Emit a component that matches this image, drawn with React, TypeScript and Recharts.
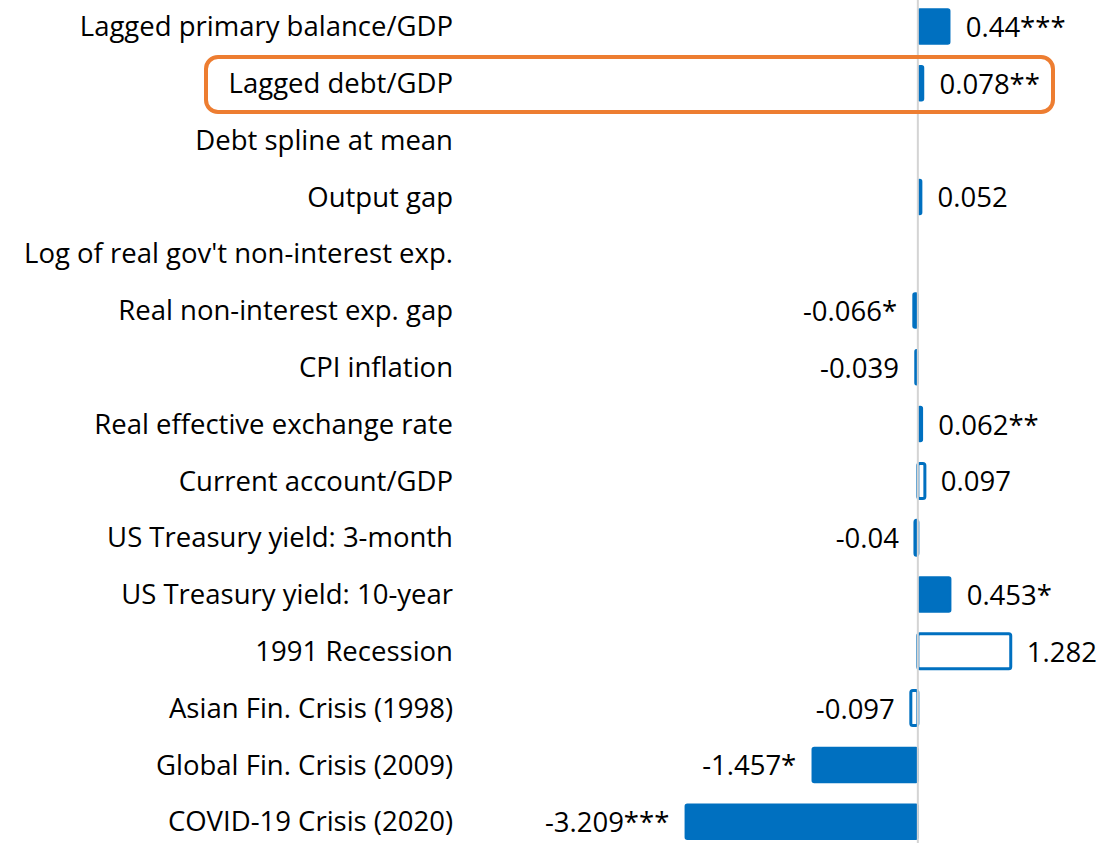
import React from 'react';
import { BarChart, Bar, XAxis, YAxis, ReferenceLine, LabelList } from 'recharts';

const categories = [
  'Lagged primary balance/GDP',
  'Lagged debt/GDP',
  'Debt spline at mean',
  'Output gap',
  "Log of real gov't non-interest exp.",
  'Real non-interest exp. gap',
  'CPI inflation',
  'Real effective exchange rate',
  'Current account/GDP',
  'US Treasury yield: 3-month',
  'US Treasury yield: 10-year',
  '1991 Recession',
  'Asian Fin. Crisis (1998)',
  'Global Fin. Crisis (2009)',
  'COVID-19 Crisis (2020)',
];
const coefficients: (number | null)[] = [
  0.44, 0.078, null, 0.052, null, -0.066, -0.039, 0.062, 0.097, -0.04, 0.453, 1.282, -0.097, -1.457, -3.209,
];
const valueLabels = [
  '0.44***', '0.078**', '', '0.052', '', '-0.066*', '-0.039', '0.062**', '0.097', '-0.04', '0.453*', '1.282', '-0.097', '-1.457*', '-3.209***',
];
const significant = [
  true, true, false, true, false, true, true, true, false, false, true, false, false, true, true,
];
const xDomain: [number, number] = [-4, 2.5];

const BLUE = '#0070C0';
const FONT = "'Open Sans', 'Noto Sans', sans-serif";
const FONT_SIZE = 27.5;

const data = categories.map((name, i) => ({
  name,
  value: coefficients[i],
  label: valueLabels[i],
  sig: significant[i],
}));

const BarShape = (props: any) => {
  const { x, y, width, height } = props;
  if (width == null || height == null) return null;
  const sig = props.payload ? props.payload.sig : props.sig;
  const x0 = Math.min(x, x + width);
  const w = Math.abs(width);
  if (sig) {
    return (
      <rect x={x0} y={y} width={w} height={height} rx={2} fill={BLUE} stroke={BLUE} strokeWidth={1.5} />
    );
  }
  return (
    <rect x={x0} y={y} width={w} height={height} rx={2} fill="#fff" stroke={BLUE} strokeWidth={3} />
  );
};

const ValueLabel = (props: any) => {
  const { x, y, width, height, value } = props;
  const text = value == null ? '' : String(value);
  if (!text) return null;
  const neg = text.startsWith('-');
  const gap = 16;
  const tx = neg ? Math.min(x, x + width) - gap : Math.max(x, x + width) + gap;
  return (
    <text
      x={tx}
      y={y + height / 2}
      textAnchor={neg ? 'end' : 'start'}
      dominantBaseline="central"
      fontFamily={FONT}
      fontSize={FONT_SIZE}
      fill="#000"
    >
      {text}
    </text>
  );
};

export default function App() {
  return (
    <div style={{ position: 'absolute', left: 0, top: -2, width: 1107, height: 852, background: '#fff' }}>
      <BarChart
        width={1107}
        height={852}
        data={data}
        layout="vertical"
        margin={{ top: 0, right: 8, bottom: 0, left: 0 }}
        barSize={35}
      >
        <XAxis type="number" domain={xDomain} hide />
        <YAxis
          type="category"
          dataKey="name"
          width={628}
          axisLine={false}
          tickLine={false}
          tickSize={0}
          tickMargin={175}
          interval={0}
          tick={{ fontFamily: FONT, fontSize: FONT_SIZE, fill: '#000' }}
        />
        <ReferenceLine x={0} stroke="#d4d4d4" strokeWidth={2} />
        <Bar dataKey="value" isAnimationActive={false} shape={<BarShape />}>
          <LabelList dataKey="label" content={<ValueLabel />} />
        </Bar>
      </BarChart>
      <svg
        width={1107}
        height={852}
        style={{ position: 'absolute', left: 0, top: 0, pointerEvents: 'none' }}
      >
        <rect x={206} y={59} width={847} height={55} rx={12} fill="none" stroke="#ED7D31" strokeWidth={4} />
      </svg>
    </div>
  );
}
